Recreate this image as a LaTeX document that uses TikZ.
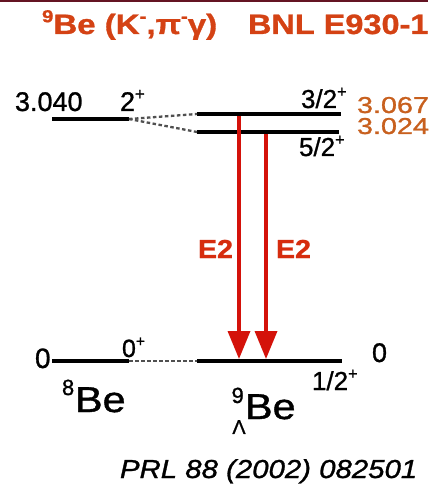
\documentclass[tikz,border=0pt]{standalone}
\usepackage{fontspec}
\setmainfont{Liberation Sans}
\usetikzlibrary{arrows.meta}
\definecolor{titleor}{RGB}{212,66,20}
\definecolor{numor}{RGB}{200,96,30}
\definecolor{arrred}{RGB}{212,18,10}
\definecolor{e2col}{RGB}{214,44,14}
\definecolor{frame}{RGB}{100,20,35}
\definecolor{dashgr}{RGB}{80,80,80}
\newcommand{\fs}[1]{\fontsize{#1}{#1}\selectfont}
\newcommand{\sps}[1]{\raisebox{0.42em}{\scalebox{0.62}{#1}}}
\newfontfamily\heavy[FakeBold=1]{Liberation Sans}
\tikzset{
  lbl/.style={anchor=base west, inner sep=0pt, outer sep=0pt, font=\heavy},
  level/.style={line width=4pt},
  dashlvl/.style={dashgr, line width=2.3pt, dash pattern=on 3.5pt off 2.5pt},
  gamma/.style={arrred, line width=3.5pt, -{Triangle[length=28pt,width=22pt]}},
}
\begin{document}
\begin{tikzpicture}[x=1pt,y=-1pt]
\useasboundingbox (0,0) rectangle (428,489);
\fill[white] (0,0) rectangle (428,489);
\fill[frame] (0,0) rectangle (428,2.5);
% title
\node[lbl, text=titleor] (t1) at (42,34) {\scalebox{1.18}[1]{\bfseries\fs{28}\sps{9}Be (K\sps{-},π\sps{-}γ)}};
\node[lbl, text=titleor] (t2) at (248,34) {\scalebox{1.16}[1]{\bfseries\fs{28}BNL E930-1}};
% level coordinates
\coordinate (a1) at (52,119); \coordinate (a2) at (129,119);
\coordinate (b1) at (197,114); \coordinate (b2) at (341,114);
\coordinate (c1) at (197,132); \coordinate (c2) at (339,132);
\coordinate (d1) at (52,361); \coordinate (d2) at (129,361);
\coordinate (e1) at (197,361); \coordinate (e2) at (342,361);
\draw[level] (a1) -- (a2);
\draw[level] (b1) -- (b2);
\draw[level] (c1) -- (c2);
\draw[level] (d1) -- (d2);
\draw[level] (e1) -- (e2);
\draw[dashlvl] (a2) -- (b1);
\draw[dashlvl] (a2) -- (c1);
\draw[dashlvl] (d2) -- (e1);
% gamma transitions
\coordinate (g1s) at (239,116); \coordinate (g1e) at (239,359);
\coordinate (g2s) at (266,134); \coordinate (g2e) at (266,359);
\draw[gamma] (g1s) -- (g1e);
\draw[gamma] (g2s) -- (g2e);
\node[lbl, text=e2col] (e2a) at (198,258) {\scalebox{1.1}[1]{\bfseries\fs{26}E2}};
\node[lbl, text=e2col] (e2b) at (276,258) {\scalebox{1.1}[1]{\bfseries\fs{26}E2}};
% labels
\node[lbl] (n3040) at (15,111) {\fs{27}3.040};
\node[lbl] (n2p) at (120,111) {\fs{27}2\sps{+}};
\node[lbl] (n32) at (301,108) {\fs{26}3/2\sps{+}};
\node[lbl] (n52) at (299,156) {\fs{26}5/2\sps{+}};
\node[lbl, text=numor] (n3067) at (357,113) {\scalebox{1.25}[1]{\fs{23}3.067}};
\node[lbl, text=numor] (n3024) at (357,134) {\scalebox{1.25}[1]{\fs{23}3.024}};
\node[lbl] (n0l) at (35,368) {\fs{28}0};
\node[lbl] (n0p) at (122,357) {\fs{25}0\sps{+}};
\node[lbl] (n0r) at (372,362) {\fs{27}0};
\node[lbl] (n12) at (312,390) {\fs{26}1/2\sps{+}};
\node[lbl] (be8a) at (62,395) {\fs{22}8};
\node[lbl] (be8) at (75,412) {\scalebox{1.15}[1]{\fs{36}Be}};
\node[lbl] (be9) at (245,419) {\scalebox{1.15}[1]{\fs{36}Be}};
\node[anchor=base east, inner sep=0pt, font=\heavy] (be9a) at (244,403) {\fs{22}9};
\node[anchor=base, inner sep=0pt, font=\heavy] (be9b) at (239,434) {\fs{20}Λ};
\node[lbl] (ref) at (120,478) {\scalebox{1.13}[1]{\itshape\fs{26}PRL 88 (2002) 082501}};
\end{tikzpicture}
\end{document}
